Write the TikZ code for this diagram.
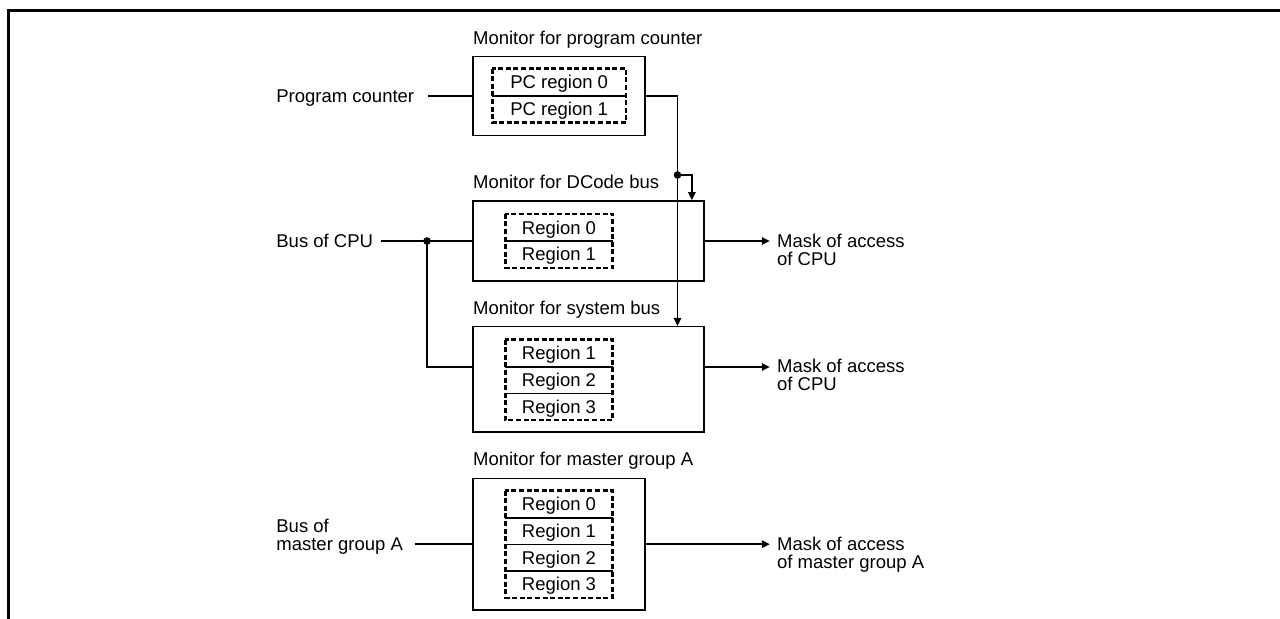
\documentclass[tikz,border=0pt]{standalone}
\usepackage{fontspec}
\setmainfont{Liberation Sans}
\usetikzlibrary{arrows.meta,calc}

\newcommand{\lblfont}{\fontsize{9.25pt}{9.15pt}\selectfont}

\begin{document}
\begin{tikzpicture}[x=0.5pt, y=-0.5pt, font=\lblfont,
    monbox/.style={draw, line width=0.8pt, inner sep=0pt},
    regcell/.style={inner sep=0pt, minimum width=#1, minimum height=13.3pt, text height=6.6pt, text depth=0pt},
    regfrm/.style={draw, line width=1.25pt, dash pattern=on 2.5pt off 1.3pt},
    ttl/.style={inner sep=0pt, anchor=base west},
    lbl/.style={inner sep=0pt, text height=6.6pt, text depth=0pt, anchor=west},
    mlbl/.style={inner sep=0pt, align=left, anchor=north west},
    wire/.style={line width=0.8pt},
    arr/.style={wire, -{Triangle[length=4pt, width=3.7pt]}},
    dot/.style={circle, fill=black, inner sep=0pt, minimum size=3.8pt}]

	% picture area and the frame (top and left side only)
	\useasboundingbox (0,0) rectangle (1280,619);
	\draw[line width=1.5pt] (8.3,619) -- (8.3,10.8) -- (1280,10.8);

	% Monitor boxes
	\node[monbox, minimum width=86.1pt, minimum height=39.5pt] (pcmon) at (558.8,96.2) {};
	\node[monbox, minimum width=115.65pt, minimum height=40pt] (dcmon) at (588.4,241) {};
	\node[monbox, minimum width=115.65pt, minimum height=52.8pt] (sysmon) at (588.4,379.5) {};
	\node[monbox, minimum width=86.15pt, minimum height=65.85pt] (mgmon) at (558.9,544.2) {};

	% Titles above the boxes
	\node[ttl] (pcttl) at ([xshift=0.4pt, yshift=5.85pt]pcmon.north west) {Monitor for program counter};
	\node[ttl] (dcttl) at ([xshift=0.4pt, yshift=5.85pt]dcmon.north west) {Monitor for DCode bus};
	\node[ttl] (systtl) at ([xshift=0.4pt, yshift=5.85pt]sysmon.north west) {Monitor for system bus};
	\node[ttl] (mgttl) at ([xshift=0.4pt, yshift=5.85pt]mgmon.north west) {Monitor for master group A};

	% Region cells inside each monitor
	\foreach \i in {0,1}
		\node[regcell=66.5pt] (pcr\i) at (559.2,{82.3+26.6*\i}) {PC region \i};
	\foreach \i in {0,1}
		\node[regcell=53.25pt] (dcr\i) at (559,{227.6+26.6*\i}) {Region \i};
	\foreach \i [count=\k from 0] in {1,2,3}
		\node[regcell=53.25pt] (sbr\i) at (559,{353.3+26.6*\k}) {Region \i};
	\foreach \i in {0,1,2,3}
		\node[regcell=53.25pt] (mgr\i) at (559,{504.3+26.6*\i}) {Region \i};

	% dividers and dashed frames of the regions
	\draw[wire] (pcr0.south west) -- (pcr0.south east);
	\draw[wire] (dcr0.south west) -- (dcr0.south east);
	\foreach \i in {1,2}
		\draw[wire] (sbr\i.south west) -- (sbr\i.south east);
	\foreach \i in {0,1,2}
		\draw[wire] (mgr\i.south west) -- (mgr\i.south east);
	\draw[regfrm] (pcr0.north west) rectangle (pcr1.south east);
	\draw[regfrm] (dcr0.north west) rectangle (dcr1.south east);
	\draw[regfrm] (sbr1.north west) rectangle (sbr3.south east);
	\draw[regfrm] (mgr0.north west) rectangle (mgr3.south east);

	% Inputs
	\node[lbl] (pclbl) at (276,96) {Program counter};
	\node[lbl] (cpulbl) at (276,241) {Bus of CPU};
	\node[mlbl] (mglbl) at (276,518.3) {Bus of\\master group A};

	\draw[wire] ($(pclbl.east |- pcmon.west)+(13.5,0)$) -- (pcmon.west);
	\coordinate (cpusplit) at (427,241);
	\draw[wire] ($(cpulbl.east)+(8,0)$) -- (dcmon.west);
	\draw[wire] (cpusplit) |- (sbr1.south -| sysmon.west);
	\node[dot] (cpudot) at (cpusplit) {};
	\draw[wire] ($(mglbl.east |- mgmon.west)+(11.5,0)$) -- (mgmon.west);

	% program counter regions feed both bus monitors
	\coordinate (pctap) at (677.5,175);
	\draw[arr] (pcmon.east) -| (pctap |- sysmon.north);
	\draw[arr] (pctap) -| ([xshift=-6.5pt]dcmon.north east);
	\node[dot] (pcdot) at (pctap) {};

	% Outputs
	\node[mlbl] (dcout) at (776.7,233.3) {Mask of access\\of CPU};
	\node[mlbl] (sbout) at (776.7,358.6) {Mask of access\\of CPU};
	\node[mlbl] (mgout) at (776.7,536.6) {Mask of access\\of master group A};

	\draw[arr, shorten >=3.45pt] (dcmon.east) -- (dcmon.east -| dcout.west);
	\draw[arr, shorten >=3.45pt] (sbr1.south -| sysmon.east) -- (sbr1.south -| sbout.west);
	\draw[arr, shorten >=3.45pt] (mgmon.east) -- (mgmon.east -| mgout.west);

\end{tikzpicture}
\end{document}
